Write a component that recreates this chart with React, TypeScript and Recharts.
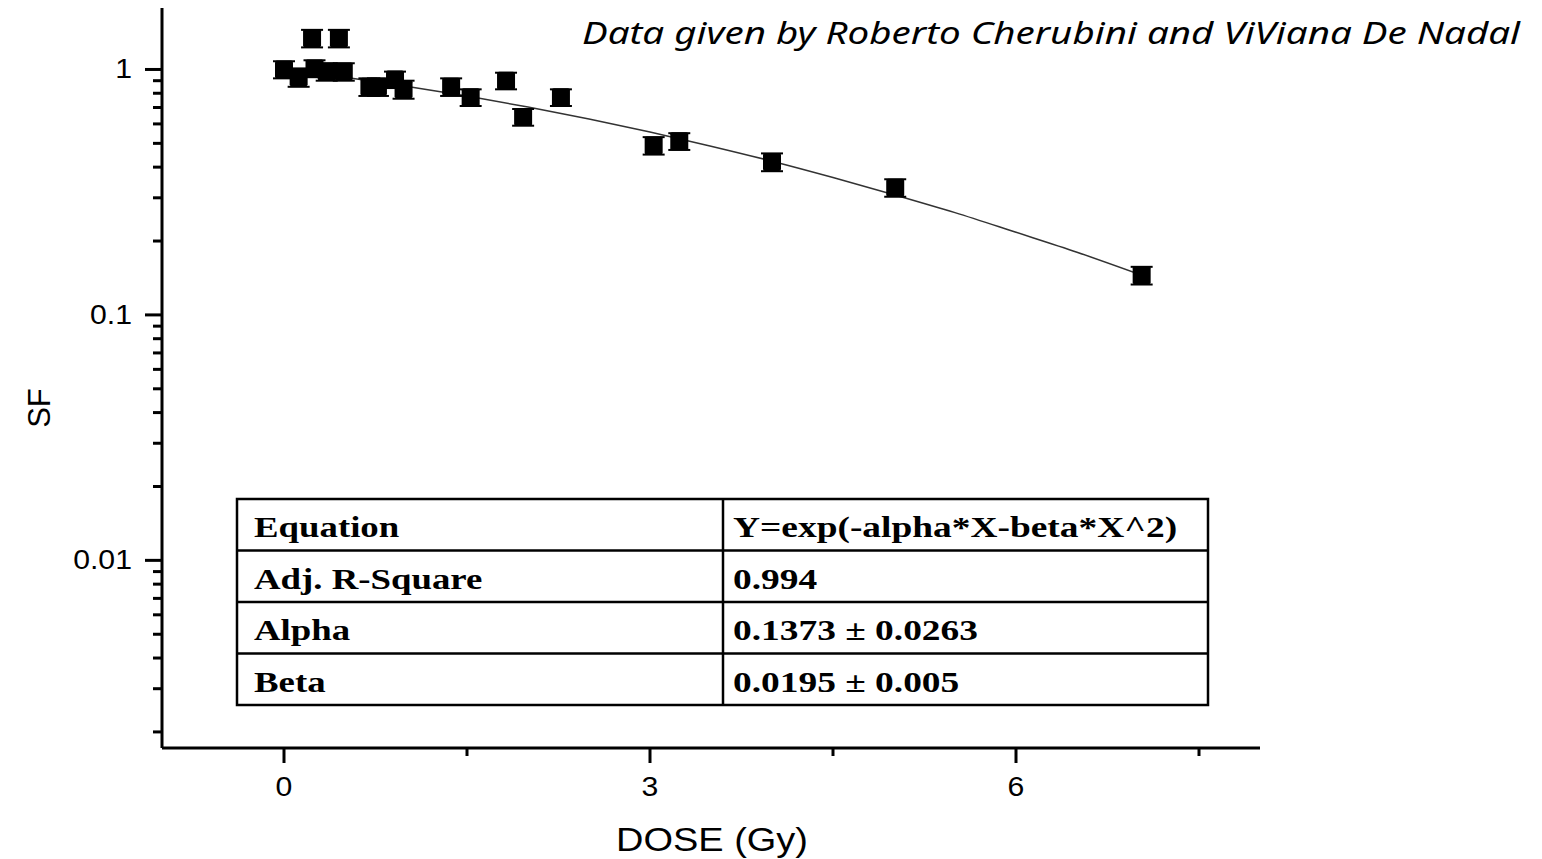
import React from 'react';
import { ComposedChart, XAxis, YAxis, Scatter, Line, ErrorBar } from 'recharts';

const doseValues = [0, 0.12, 0.23, 0.25, 0.35, 0.45, 0.49, 0.70, 0.77, 0.91, 0.98, 1.37, 1.53, 1.82, 1.96, 2.27, 3.03, 3.24, 4.0, 5.01, 7.03];
const sfValues = [1.0, 0.93, 1.34, 1.01, 0.98, 1.34, 0.98, 0.85, 0.85, 0.91, 0.83, 0.85, 0.77, 0.90, 0.64, 0.77, 0.49, 0.51, 0.42, 0.33, 0.145];
const sfErrors = [0.08, 0.08, 0.11, 0.08, 0.08, 0.11, 0.08, 0.07, 0.07, 0.07, 0.07, 0.07, 0.06, 0.07, 0.05, 0.06, 0.04, 0.04, 0.035, 0.027, 0.012];

// Fitted curve
const fitDose = [0, 0.5, 1, 1.5, 2, 2.5, 3, 3.5, 4, 4.5, 5, 5.5, 6, 6.5, 7];
const fitSF = [1.0, 0.929, 0.855, 0.779, 0.703, 0.628, 0.556, 0.487, 0.423, 0.363, 0.309, 0.261, 0.217, 0.180, 0.147];

// Axis ticks
const xTicks = [0, 1.5, 3, 4.5, 6, 7.5];
const xMajorTicks = [0, 3, 6];
const yTicks = [
  0.002, 0.003, 0.004, 0.005, 0.006, 0.007, 0.008, 0.009,
  0.01, 0.02, 0.03, 0.04, 0.05, 0.06, 0.07, 0.08, 0.09,
  0.1, 0.2, 0.3, 0.4, 0.5, 0.6, 0.7, 0.8, 0.9, 1,
];
const yMajorTicks = [0.01, 0.1, 1];

// Annotation texts
const titleText = 'Data given by Roberto Cherubini and ViViana De Nadal';
const xAxisTitle = 'DOSE (Gy)';
const yAxisTitle = 'SF';
const tableLabels = ['Equation', 'Adj. R-Square', 'Alpha', 'Beta'];
const tableValues = ['Y=exp(-alpha*X-beta*X^2)', '0.994', '0.1373 ± 0.0263', '0.0195 ± 0.005'];

const points = doseValues.map((x, i) => ({ x, y: sfValues[i], err: sfErrors[i] }));
const fitData = fitDose.map((x, i) => ({ x, y: fitSF[i] }));

const SANS = "'Liberation Sans', Arial, sans-serif";
const SERIF = "'Liberation Serif', 'Times New Roman', serif";

const isMajor = (list: number[], v: number) => list.some((m) => Math.abs(m - v) < 1e-9);

const YTick = (props: any) => {
  const { x, y, payload } = props;
  const v = payload.value;
  const major = isMajor(yMajorTicks, v);
  const len = major ? 17 : 9;
  return (
    <g>
      <line x1={x - len} y1={y} x2={x} y2={y} stroke="#000" strokeWidth={3} />
      {major && (
        <text
          transform={`translate(${x - 30},${y + 9}) scale(1.12,1)`}
          textAnchor="end"
          fontFamily={SANS}
          fontSize={27}
          fill="#000"
        >
          {String(v)}
        </text>
      )}
    </g>
  );
};

const XTick = (props: any) => {
  const { x, y, payload } = props;
  const v = payload.value;
  const major = isMajor(xMajorTicks, v);
  const len = major ? 15 : 8;
  return (
    <g>
      <line x1={x} y1={y} x2={x} y2={y + len} stroke="#000" strokeWidth={3} />
      {major && (
        <text
          transform={`translate(${x},${y + 48}) scale(1.12,1)`}
          textAnchor="middle"
          fontFamily={SANS}
          fontSize={27}
          fill="#000"
        >
          {String(v)}
        </text>
      )}
    </g>
  );
};

const SquareShape = (props: any) => {
  const { cx, cy } = props;
  if (cx == null || cy == null) return null;
  return <rect x={cx - 9} y={cy - 9} width={18} height={18} rx={2} fill="#000" />;
};

const TABLE_LEFT = 237;
const TABLE_RIGHT = 1208;
const TABLE_TOP = 499;
const ROW_H = 51.5;
const COL_X = 723;

export default function App() {
  return (
    <div style={{ position: 'absolute', left: 0, top: 0, width: 1542, height: 859, background: '#fff' }}>
      <ComposedChart
        width={1542}
        height={859}
        margin={{ top: 8, right: 282, bottom: 0, left: 0 }}
      >
        <XAxis
          type="number"
          dataKey="x"
          domain={[-1, 8]}
          allowDataOverflow
          ticks={xTicks}
          interval={0}
          tickSize={0}
          tickMargin={0}
          height={111}
          axisLine={{ stroke: '#000', strokeWidth: 3 }}
          tickLine={false}
          tick={<XTick />}
        />
        <YAxis
          type="number"
          dataKey="y"
          scale="log"
          domain={[0.00172, 1.78]}
          allowDataOverflow
          ticks={yTicks}
          interval={0}
          tickSize={0}
          tickMargin={0}
          width={162}
          axisLine={{ stroke: '#000', strokeWidth: 3 }}
          tickLine={false}
          tick={<YTick />}
        />
        <Line
          data={fitData}
          dataKey="y"
          type="monotone"
          stroke="#333"
          strokeWidth={1.5}
          dot={false}
          activeDot={false}
          isAnimationActive={false}
        />
        <Scatter data={points} dataKey="y" shape={<SquareShape />} fill="#000" isAnimationActive={false}>
          <ErrorBar dataKey="err" direction="y" width={11} stroke="#000" strokeWidth={2} isAnimationActive={false} />
        </Scatter>
      </ComposedChart>

      <svg
        width={1542}
        height={859}
        style={{ position: 'absolute', left: 0, top: 0, pointerEvents: 'none' }}
      >
        <text
          x={582}
          y={44}
          fontFamily="'Noto Sans', 'Open Sans', sans-serif"
          fontStyle="italic"
          fontSize={30}
          fill="#000"
          textLength={938}
          lengthAdjust="spacingAndGlyphs"
        >
          {titleText}
        </text>

        <text
          transform={`translate(712,851) scale(1.15,1)`}
          textAnchor="middle"
          fontFamily={SANS}
          fontSize={33}
          fill="#000"
        >
          {xAxisTitle}
        </text>
        <text
          transform={`translate(50,408) rotate(-90)`}
          textAnchor="middle"
          fontFamily={SANS}
          fontSize={31}
          fill="#000"
        >
          {yAxisTitle}
        </text>

        <g>
          <rect
            x={TABLE_LEFT}
            y={TABLE_TOP}
            width={TABLE_RIGHT - TABLE_LEFT}
            height={ROW_H * tableLabels.length}
            fill="#fff"
            stroke="#000"
            strokeWidth={2.5}
          />
          <line x1={COL_X} y1={TABLE_TOP} x2={COL_X} y2={TABLE_TOP + ROW_H * tableLabels.length} stroke="#000" strokeWidth={2.5} />
          {tableLabels.slice(1).map((_, i) => (
            <line
              key={`rl${i}`}
              x1={TABLE_LEFT}
              x2={TABLE_RIGHT}
              y1={TABLE_TOP + ROW_H * (i + 1)}
              y2={TABLE_TOP + ROW_H * (i + 1)}
              stroke="#000"
              strokeWidth={2.5}
            />
          ))}
          {tableLabels.map((lab, i) => (
            <text
              key={`tl${i}`}
              transform={`translate(254,${TABLE_TOP + ROW_H * i + 38}) scale(1.27,1)`}
              fontFamily={SERIF}
              fontWeight="bold"
              fontSize={29}
              fill="#000"
            >
              {lab}
            </text>
          ))}
          {tableValues.map((val, i) => (
            <text
              key={`tv${i}`}
              transform={`translate(733,${TABLE_TOP + ROW_H * i + 38}) scale(1.29,1)`}
              fontFamily={SERIF}
              fontWeight="bold"
              fontSize={29}
              fill="#000"
            >
              {val}
            </text>
          ))}
        </g>
      </svg>
    </div>
  );
}
